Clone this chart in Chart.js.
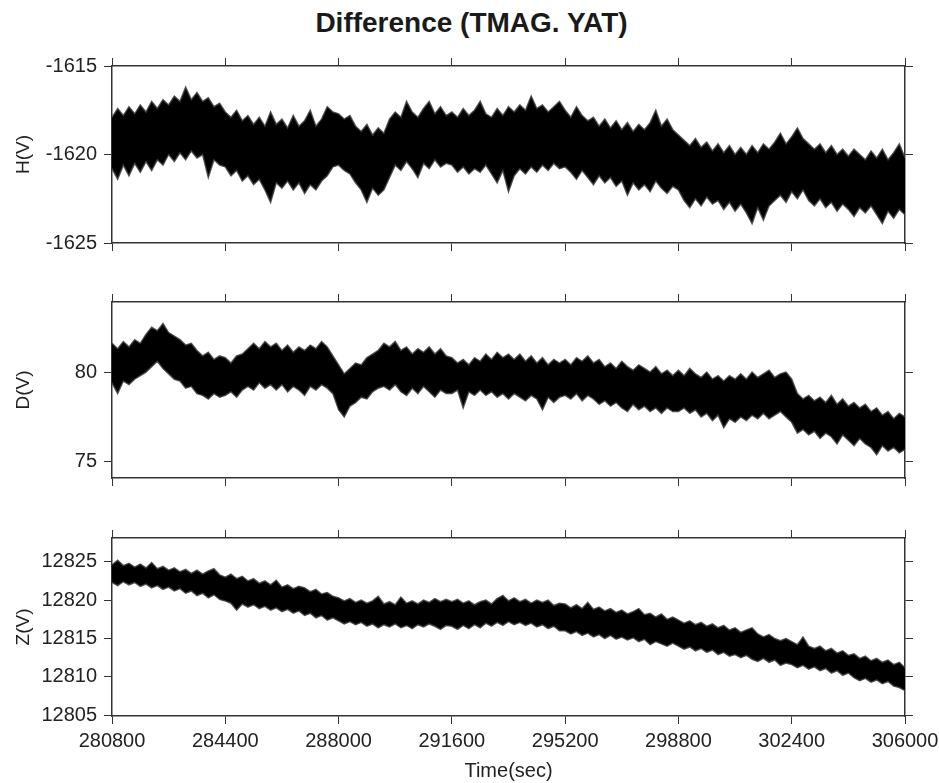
<!DOCTYPE html>
<html>
<head>
<meta charset="utf-8">
<title>Difference (TMAG. YAT)</title>
<script src="https://cdn.jsdelivr.net/npm/chart.js@4.4.1/dist/chart.umd.min.js"></script>
<style>
  body { margin: 0; background: #fff; }
  #wrap { position: relative; width: 939px; height: 783px; overflow: hidden; font-family: "Liberation Sans", Arial, Helvetica, sans-serif; }
  #title { position: absolute; left: 0; top: 9px; width: 943px; text-align: center; font-weight: bold; font-size: 28px; line-height: 28px; color: #1a1a1a; }
  canvas { position: absolute; left: 0; }
</style>
</head>
<body>
<div id="wrap">
  <div id="title">Difference (TMAG. YAT)</div>
  <canvas id="hChart" width="950" height="270" style="top:0"></canvas>
  <canvas id="dChart" width="950" height="255" style="top:250px"></canvas>
  <canvas id="zChart" width="950" height="293" style="top:490px"></canvas>
</div>
<script>
// time axis: one min/max pair every 180 s from 280800 to 306000
const T0 = 280800, T1 = 306000, STEP = 180;
const timeTicks = [280800, 284400, 288000, 291600, 295200, 298800, 302400, 306000];

const hTicks = [-1625, -1620, -1615];
const dTicks = [75, 80];
const zTicks = [12805, 12810, 12815, 12820, 12825];

// H(V) upper / lower envelope
const hHigh = [
  -1617.9, -1617.4, -1617.8, -1617.3, -1617.7, -1617.2, -1617.6, -1617.0, -1617.4, -1616.9, -1617.2, -1616.7, -1617.0, -1616.2, -1616.9, -1616.5, -1617.0, -1616.8, -1617.3, -1617.1,
  -1617.6, -1617.9, -1617.5, -1618.1, -1617.8, -1618.3, -1617.9, -1618.4, -1617.6, -1618.3, -1618.0, -1618.5, -1617.8, -1618.4, -1618.1, -1617.5, -1618.4, -1618.0, -1617.3, -1617.6,
  -1617.7, -1618.0, -1617.8, -1618.4, -1618.7, -1618.3, -1618.9, -1618.5, -1618.8, -1618.0, -1617.6, -1617.9, -1617.0, -1617.6, -1617.9, -1617.4, -1617.0, -1617.7, -1617.3, -1617.8,
  -1617.6, -1617.9, -1617.4, -1617.8, -1617.5, -1617.0, -1617.7, -1617.9, -1617.4, -1617.8, -1617.3, -1617.6, -1617.2, -1617.5, -1616.7, -1617.4, -1617.2, -1617.6, -1617.3, -1617.0,
  -1617.5, -1617.9, -1617.3, -1617.8, -1618.1, -1617.9, -1618.4, -1618.0, -1618.5, -1618.1, -1618.6, -1618.2, -1618.7, -1618.3, -1618.6, -1618.2, -1617.5, -1618.4, -1618.0, -1618.6,
  -1618.9, -1619.2, -1619.5, -1619.1, -1619.6, -1619.3, -1619.8, -1619.4, -1619.9, -1619.5, -1620.0, -1619.6, -1620.0, -1619.5, -1619.9, -1619.4, -1619.7, -1619.3, -1618.8, -1619.4,
  -1619.0, -1618.5, -1619.1, -1619.4, -1619.7, -1619.4, -1619.9, -1619.5, -1620.0, -1619.7, -1620.1, -1619.7, -1620.0, -1620.3, -1619.8, -1620.2, -1619.7, -1620.3, -1619.9, -1619.4, -1620.2
];
const hLow = [
  -1620.8, -1621.4, -1620.6, -1621.2, -1620.5, -1621.0, -1620.4, -1620.9, -1620.3, -1620.6, -1620.0, -1620.4, -1619.9, -1620.3, -1619.8, -1620.2, -1620.0, -1621.3, -1620.3, -1620.6,
  -1620.7, -1621.2, -1620.9, -1621.5, -1621.2, -1621.7, -1621.4, -1622.0, -1622.7, -1621.6, -1621.9, -1621.5, -1622.0, -1621.6, -1622.2, -1621.7, -1622.0, -1621.5, -1621.2, -1620.7,
  -1620.6, -1620.9, -1621.1, -1621.6, -1622.0, -1622.7, -1621.9, -1622.3, -1622.0, -1621.3, -1620.6, -1620.9, -1620.4, -1620.8, -1621.3, -1620.5, -1620.8, -1620.3, -1620.7, -1620.5,
  -1620.6, -1621.0, -1620.7, -1621.1, -1620.8, -1621.0, -1620.6, -1621.1, -1621.6, -1620.9, -1622.1, -1621.2, -1620.8, -1621.1, -1620.7, -1621.0, -1620.6, -1620.9, -1620.5, -1620.8,
  -1620.7, -1621.0, -1621.4, -1620.9, -1621.3, -1621.7, -1621.2, -1621.6, -1621.3, -1621.8, -1621.5, -1622.3, -1621.6, -1622.0, -1621.7, -1622.1, -1621.5, -1621.9, -1622.2, -1621.8,
  -1622.0, -1622.6, -1623.0, -1622.5, -1622.9, -1622.4, -1622.8, -1622.6, -1623.1, -1622.7, -1623.2, -1622.8, -1623.3, -1623.9, -1623.0, -1623.7, -1622.9, -1622.6, -1622.3, -1622.7,
  -1622.1, -1622.5, -1622.0, -1622.6, -1622.9, -1622.5, -1623.0, -1622.7, -1623.2, -1622.8, -1623.1, -1623.5, -1623.0, -1623.3, -1622.9, -1623.4, -1623.9, -1623.2, -1623.6, -1623.1, -1623.4
];

// D(V) upper / lower envelope
const dHigh = [
  81.6, 81.3, 81.7, 81.4, 81.8, 81.6, 82.1, 82.5, 82.3, 82.7, 82.2, 82.0, 81.8, 81.5, 81.6, 81.2, 80.9, 81.1, 80.7, 80.9,
  80.8, 80.5, 80.9, 81.0, 81.3, 81.6, 81.3, 81.7, 81.4, 81.6, 81.2, 81.5, 81.1, 81.4, 81.2, 81.5, 81.3, 81.7, 81.4, 80.9,
  80.4, 79.9, 80.2, 80.5, 80.4, 80.8, 81.0, 81.2, 81.6, 81.4, 81.7, 81.2, 81.4, 81.0, 81.3, 81.1, 81.4, 81.0, 81.3, 80.9,
  80.8, 80.5, 80.7, 80.4, 80.8, 80.6, 81.0, 80.7, 81.1, 80.8, 81.0, 80.7, 81.0, 80.6, 80.9, 80.5, 80.8, 80.4, 80.7, 80.5,
  80.7, 80.4, 80.8, 80.6, 80.9, 80.5, 80.7, 80.3, 80.5, 80.2, 80.6, 80.3, 80.1, 80.4, 80.2, 80.0, 80.3, 79.9, 80.1, 79.8,
  80.1, 79.8, 80.2, 79.9, 79.7, 80.0, 79.6, 79.8, 79.5, 79.8, 79.6, 79.9, 79.6, 80.0, 79.7, 79.9, 80.1, 79.7, 79.9, 80.0,
  79.6, 78.8, 78.5, 78.7, 78.4, 78.6, 78.3, 78.7, 78.2, 78.5, 78.1, 78.3, 78.0, 78.2, 77.8, 78.0, 77.6, 77.8, 77.4, 77.7, 77.5
];
const dLow = [
  79.4, 78.8, 79.5, 79.3, 79.6, 79.8, 80.0, 80.3, 80.6, 80.2, 79.9, 79.6, 79.5, 79.1, 79.2, 78.8, 78.7, 78.5, 78.8, 78.6,
  78.7, 78.9, 78.6, 79.0, 79.2, 79.0, 79.4, 79.1, 79.3, 79.0, 79.3, 78.9, 79.2, 79.0, 78.7, 79.2, 79.0, 79.3, 79.1, 78.8,
  77.9, 77.5, 78.1, 78.3, 78.6, 78.5, 78.9, 79.1, 79.2, 79.0, 79.3, 78.9, 78.7, 79.1, 78.8, 79.2, 78.9, 78.6, 79.0, 78.8,
  78.8, 79.0, 78.0, 78.9, 78.7, 79.0, 78.7, 78.9, 78.6, 78.8, 78.5, 78.8, 78.6, 78.4, 78.7, 78.5, 77.9, 78.6, 78.3, 78.6,
  78.7, 78.5, 78.8, 78.4, 78.7, 78.5, 78.2, 78.4, 78.1, 78.3, 78.0, 77.8, 78.2, 77.9, 78.1, 77.8, 78.0, 77.7, 78.0, 77.8,
  77.8, 78.0, 77.7, 77.9, 77.5, 77.7, 77.3, 77.6, 76.9, 77.4, 77.2, 77.5, 77.3, 77.6, 77.4, 77.7, 77.4, 77.6, 77.8, 77.5,
  77.2, 76.6, 76.8, 76.5, 76.7, 76.3, 76.6, 76.4, 76.0, 76.5, 76.2, 75.9, 76.3, 76.0, 75.8, 75.4, 75.9, 75.6, 75.8, 75.5, 75.7
];

// Z(V) upper / lower envelope
const zHigh = [
  12824.6, 12825.2, 12824.5, 12824.8, 12824.3, 12824.7, 12824.2, 12824.9, 12824.1, 12824.4, 12823.9, 12824.2, 12823.7, 12824.0, 12823.5, 12823.9, 12823.4, 12823.8, 12824.1, 12823.3,
  12823.0, 12823.4, 12822.8, 12823.1, 12822.5, 12822.8, 12822.2, 12822.5, 12822.0, 12822.6, 12821.7, 12822.0, 12821.5, 12821.8, 12821.6, 12821.1, 12821.4, 12820.8, 12821.0, 12820.5,
  12820.3, 12819.9, 12820.2, 12819.7, 12820.0, 12819.6, 12819.9, 12820.5, 12819.5, 12819.8, 12819.4, 12820.4, 12819.6, 12819.9, 12819.5, 12820.0, 12819.7, 12820.2, 12819.8, 12820.1,
  12819.8, 12820.1, 12819.6, 12819.9, 12819.4, 12819.8, 12820.0, 12819.5, 12820.2, 12820.6, 12819.9, 12820.3, 12819.8, 12820.1, 12819.6, 12820.0, 12819.7, 12820.0, 12819.3, 12819.6,
  12819.5, 12819.0, 12819.4, 12818.9, 12819.7, 12818.8, 12819.1, 12818.6, 12818.9, 12818.4, 12818.7, 12818.2, 12818.5, 12818.9, 12818.1, 12818.3, 12817.8, 12818.2, 12817.5, 12817.8,
  12817.4, 12817.0, 12817.3, 12816.8, 12817.1, 12816.6, 12816.9, 12816.4, 12816.7, 12816.1, 12816.4, 12815.8, 12816.1, 12816.4, 12815.6, 12815.2, 12815.5, 12815.0, 12814.7, 12815.0,
  12814.6, 12814.2, 12815.2, 12814.0, 12813.7, 12814.0, 12813.4, 12813.7, 12813.1, 12813.4, 12812.8, 12813.0, 12812.4, 12812.7, 12812.1, 12812.4, 12811.9, 12812.2, 12811.6, 12811.9, 12811.2
];
const zLow = [
  12822.3, 12821.9, 12822.4, 12822.0, 12822.3, 12821.8, 12822.1, 12821.6, 12821.9, 12821.4, 12821.7, 12821.2, 12821.5, 12820.9, 12821.2, 12820.6, 12820.9, 12820.3, 12820.7, 12820.1,
  12819.9, 12819.6, 12818.7, 12819.5, 12819.1, 12819.4, 12818.9, 12819.2, 12818.7, 12819.0, 12818.5, 12818.8, 12818.3, 12818.6, 12818.0, 12818.3, 12817.7, 12818.0, 12817.4, 12817.7,
  12817.3, 12816.9, 12817.2, 12816.8, 12817.1, 12816.6, 12816.9, 12816.4, 12816.8, 12816.5, 12816.9, 12816.4, 12816.7, 12816.3, 12816.8, 12816.5, 12816.9, 12816.6, 12816.2, 12816.7,
  12816.6, 12816.2, 12816.7, 12816.3, 12816.8, 12816.4, 12817.0, 12816.6, 12817.1, 12816.7, 12817.2, 12816.8, 12817.1, 12816.7, 12817.0, 12816.5, 12816.8, 12816.3, 12816.6, 12816.0,
  12816.0, 12815.6, 12815.9, 12815.4, 12815.7, 12815.2, 12815.5, 12815.0, 12815.4, 12814.9, 12815.2, 12814.8, 12815.1, 12814.6, 12814.9, 12814.2, 12814.6, 12814.3, 12814.0, 12814.4,
  12814.0, 12813.6, 12813.9, 12813.4, 12813.7, 12813.2, 12813.5, 12812.9, 12813.2, 12812.7, 12812.9, 12812.5, 12812.8, 12812.3, 12812.0, 12812.4, 12811.9, 12812.2, 12811.5, 12811.8,
  12811.6, 12811.2, 12811.5, 12811.0, 12811.3, 12810.8, 12811.1, 12810.5, 12810.8, 12810.2, 12810.5, 12809.9, 12809.5, 12809.8, 12809.3, 12809.6, 12809.1, 12809.4, 12808.8, 12808.6, 12808.2
];

const FONT = '"Liberation Sans", Arial, Helvetica, sans-serif';
const INK = '#222';

function toPoints(values) {
  return values.map((v, i) => ({ x: T0 + i * STEP, y: v }));
}

function makePanel(id, o) {
  const mark = { drawOnChartArea: false, tickLength: 8, color: '#333', lineWidth: 1 };
  const edge = { color: '#333', width: 1.5 };
  const setTicks = list => s => { s.ticks = list.map(v => ({ value: v })); };
  const fringe = 'rgba(60,60,60,0.85)';

  return new Chart(document.getElementById(id), {
    type: 'line',
    data: {
      datasets: [
        { data: toPoints(o.low), xAxisID: 'x', yAxisID: 'y', borderColor: fringe, borderWidth: 1.5, pointRadius: 0, fill: false },
        { data: toPoints(o.high), xAxisID: 'x', yAxisID: 'y', borderColor: fringe, borderWidth: 1.5, pointRadius: 0, fill: '-1', backgroundColor: '#000' }
      ]
    },
    options: {
      responsive: false,
      animation: false,
      events: [],
      layout: { padding: 0 },
      plugins: { legend: { display: false }, tooltip: { enabled: false } },
      scales: {
        x: {
          type: 'linear', position: 'bottom', min: T0, max: T1,
          afterBuildTicks: setTicks(timeTicks),
          afterFit: s => { s.height = o.bottom; },
          ticks: { display: !!o.xTitle, font: { family: FONT, size: 20 }, color: INK, padding: 5, maxRotation: 0, autoSkip: false, callback: v => String(v) },
          grid: mark, border: edge,
          title: { display: !!o.xTitle, text: o.xTitle || '', font: { family: FONT, size: 20 }, color: INK, padding: 0 }
        },
        x2: {
          type: 'linear', position: 'top', min: T0, max: T1,
          afterBuildTicks: setTicks(timeTicks),
          afterFit: s => { s.height = o.top; },
          ticks: { display: false },
          grid: mark, border: edge
        },
        y: {
          type: 'linear', position: 'left', min: o.min, max: o.max,
          afterBuildTicks: setTicks(o.ticks),
          afterFit: s => { s.width = 112; },
          ticks: { font: { family: FONT, size: 20 }, color: INK, padding: 7, callback: v => String(v) },
          grid: mark, border: edge,
          title: { display: true, text: o.yTitle, font: { family: FONT, size: 19 }, color: INK, padding: { top: 12, bottom: 0 } }
        },
        y2: {
          type: 'linear', position: 'right', min: o.min, max: o.max,
          afterBuildTicks: setTicks(o.ticks),
          afterFit: s => { s.width = 45; },
          ticks: { display: false },
          grid: mark, border: edge
        }
      }
    }
  });
}

// canvases overlap so every plot box lands where the reference has it
makePanel('hChart', { low: hLow, high: hHigh, min: -1625, max: -1615, ticks: hTicks, yTitle: 'H(V)', top: 66, bottom: 27 });
makePanel('dChart', { low: dLow, high: dHigh, min: 74.1, max: 83.9, ticks: dTicks, yTitle: 'D(V)', top: 52, bottom: 27 });
makePanel('zChart', { low: zLow, high: zHigh, min: 12804.9, max: 12828.1, ticks: zTicks, yTitle: 'Z(V)', top: 48, bottom: 67, xTitle: 'Time(sec)' });
</script>
</body>
</html>
